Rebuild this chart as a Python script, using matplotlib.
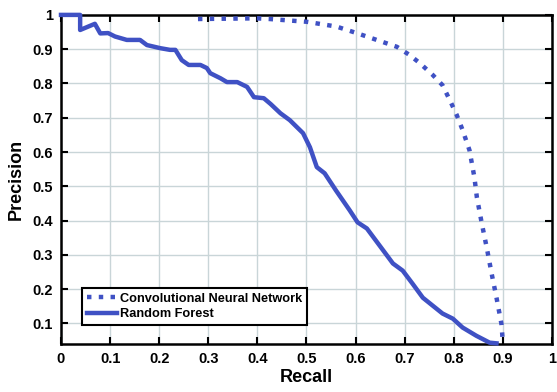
import numpy as np
import matplotlib
matplotlib.use("Agg")
import matplotlib.pyplot as plt

plt.rcParams['font.family'] = ['Liberation Sans', 'DejaVu Sans']
plt.rcParams['font.weight'] = 'bold'

# Random Forest PR curve
rf_recall = [0.0, 0.039, 0.039, 0.069, 0.08, 0.096, 0.11, 0.134, 0.161, 0.175,
             0.202, 0.222, 0.233, 0.246, 0.26, 0.284, 0.297, 0.304, 0.325, 0.338,
             0.359, 0.379, 0.393, 0.413, 0.427, 0.447, 0.466, 0.493, 0.507, 0.521,
             0.537, 0.56, 0.588, 0.604, 0.623, 0.649, 0.676, 0.696, 0.716, 0.737,
             0.757, 0.777, 0.798, 0.818, 0.846, 0.873, 0.887]
rf_precision = [1.0, 1.0, 0.956, 0.974, 0.946, 0.947, 0.937, 0.927, 0.927, 0.912,
                0.903, 0.898, 0.898, 0.868, 0.854, 0.854, 0.845, 0.83, 0.815, 0.804,
                0.804, 0.79, 0.76, 0.757, 0.74, 0.713, 0.693, 0.655, 0.614, 0.556,
                0.538, 0.488, 0.43, 0.395, 0.377, 0.327, 0.275, 0.254, 0.216, 0.175,
                0.152, 0.129, 0.114, 0.088, 0.064, 0.044, 0.042]

# CNN PR curve
cnn_recall = [0.279, 0.398, 0.425, 0.5, 0.561, 0.602, 0.643, 0.684, 0.71, 0.731,
              0.757, 0.777, 0.792, 0.806, 0.818, 0.832, 0.842, 0.847, 0.857, 0.867,
              0.877, 0.887, 0.897, 0.9]
cnn_precision = [0.988, 0.99, 0.988, 0.98, 0.966, 0.947, 0.927, 0.907, 0.883, 0.859,
                 0.825, 0.795, 0.751, 0.708, 0.664, 0.605, 0.526, 0.468, 0.392, 0.322,
                 0.246, 0.175, 0.099, 0.044]

xticks = np.arange(0, 1.01, 0.1)
yticks = np.arange(0.1, 1.01, 0.1)

blue = '#3f51c4'

fig = plt.figure(figsize=(5.57, 3.92), dpi=100)
ax = fig.add_axes([0.1095, 0.1224, 0.8815, 0.8396])

ax.plot(cnn_recall, cnn_precision, ':', color=blue, lw=3.2,
        label='Convolutional Neural Network', clip_on=False, zorder=3)
ax.plot(rf_recall, rf_precision, '-', color=blue, lw=3.2, label='Random Forest',
        clip_on=False, zorder=3)

ax.set_xlim(0, 1)
ax.set_ylim(0.04, 1)
ax.set_xticks(xticks)
ax.set_yticks(yticks)
ax.set_xticklabels([f'{v:g}' for v in xticks])
ax.set_yticklabels([f'{v:g}' for v in yticks])
ax.grid(True, color='#c9d5d8', lw=1.0)
ax.tick_params(direction='in', length=5, width=1.5, top=True, right=True,
               labelsize=10.5, pad=6)
for s in ax.spines.values():
    s.set_linewidth(1.8)

ax.set_xlabel('Recall', fontsize=13, fontweight='bold', labelpad=2)
ax.set_ylabel('Precision', fontsize=13, fontweight='bold', labelpad=5)

leg = ax.legend(loc='lower left', bbox_to_anchor=(0.043, 0.058), borderaxespad=0,
                fancybox=False, framealpha=1, edgecolor='black',
                prop={'size': 9.2, 'weight': 'bold'}, handlelength=2.4,
                borderpad=0.35, labelspacing=0.3, handletextpad=0.2)
leg.get_frame().set_linewidth(1.5)

fig.savefig('out.png', dpi=100)
